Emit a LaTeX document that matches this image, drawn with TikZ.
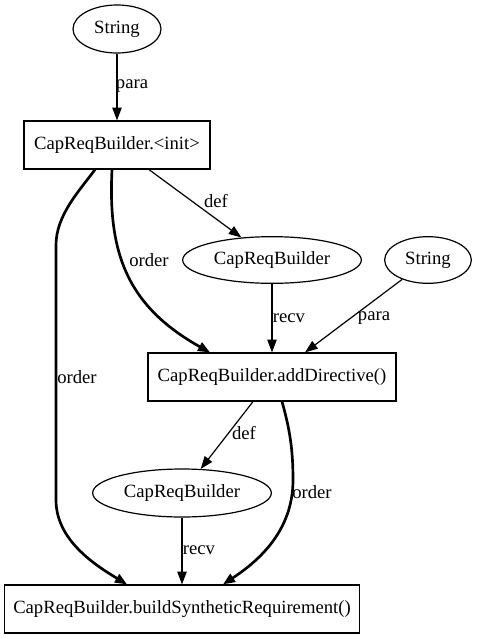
\documentclass[tikz,border=0pt]{standalone}
\usepackage{fontspec}
\setmainfont{Liberation Serif}
\usetikzlibrary{arrows.meta,shapes.geometric}
\begin{document}
\begin{tikzpicture}[x=0.75pt,y=-0.75pt,
  font=\fontsize{14pt}{16pt}\selectfont,
  ell/.style={draw,ellipse,inner sep=0pt,line width=0.9pt},
  box/.style={draw,rectangle,inner sep=0pt,minimum height=36pt,line width=0.9pt},
  dep/.style={line width=0.9pt,-{Triangle[length=9.5pt,width=7pt]}},
  ord/.style={line width=2pt,-{Triangle[length=9pt,width=7pt]}},
  lbl/.style={inner sep=0pt}]
\useasboundingbox (0,0) rectangle (477,639);
\node[ell,minimum width=66pt,minimum height=36pt] (s1) at (117,29) {String};
\node[box,minimum width=139.5pt] (init) at (117,145) {CapReqBuilder.<init>};
\node[ell,minimum width=134pt,minimum height=35pt] (c1) at (272,260) {CapReqBuilder};
\node[ell,minimum width=65pt,minimum height=35pt] (s2) at (428,260) {String};
\node[box,minimum width=186pt] (add) at (272,377) {CapReqBuilder.addDirective()};
\node[ell,minimum width=134pt,minimum height=36pt] (c2) at (182,493) {CapReqBuilder};
\node[box,minimum width=266pt] (build) at (182,609) {CapReqBuilder.buildSyntheticRequirement()};

\draw[dep] (s1) -- (init);
\node[lbl] (lp1) at (132,86) {para};
\draw[dep] ([xshift=32*0.75pt]init.south) -- (c1);
\node[lbl] (ld1) at (216,201) {def};
\draw[ord] ([xshift=-5*0.75pt]init.south) .. controls (108,250) and (125,305) .. ([xshift=-62*0.75pt]add.north);
\node[lbl] (lo1) at (149,260) {order};
\draw[ord] ([xshift=-22*0.75pt]init.south) .. controls (80,190) and (56,215) .. (56,245) -- (56,500) .. controls (56,540) and (95,565) .. ([xshift=-55*0.75pt]build.north);
\node[lbl] (lo2) at (77,377) {order};
\draw[dep] (c1) -- (add);
\node[lbl] (lr1) at (289,318) {recv};
\draw[dep] (s2) -- ([xshift=33*0.75pt]add.north);
\node[lbl] (lp2) at (374,318) {para};
\draw[dep] ([xshift=-19*0.75pt]add.south) -- (c2);
\node[lbl] (ld2) at (244,433) {def};
\draw[ord] ([xshift=10*0.75pt]add.south) .. controls (290,430) and (293,450) .. (293,480) .. controls (293,530) and (260,560) .. ([xshift=41*0.75pt]build.north);
\node[lbl] (lo3) at (312,492) {order};
\draw[dep] (c2) -- (build);
\node[lbl] (lr2) at (199,550) {recv};
\end{tikzpicture}
\end{document}
